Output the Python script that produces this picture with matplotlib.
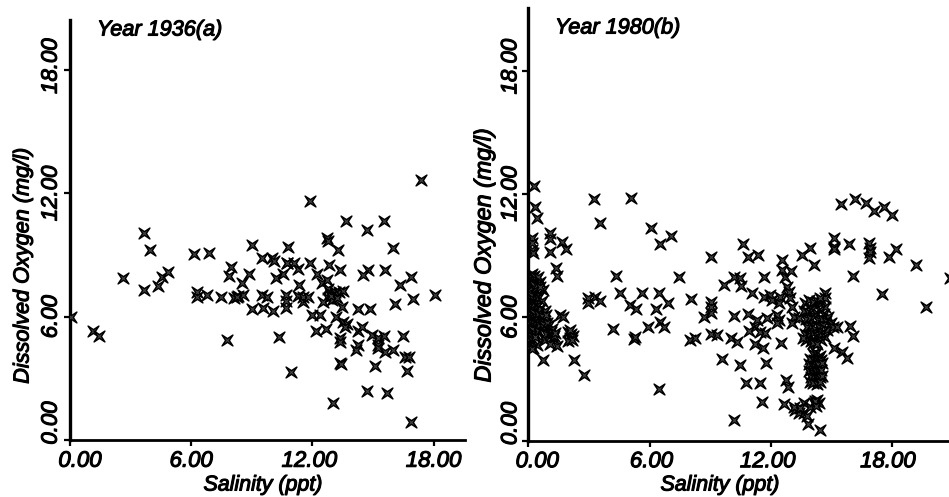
import matplotlib
matplotlib.use("Agg")
import matplotlib.pyplot as plt
import matplotlib.patheffects as pe
from matplotlib.path import Path
from matplotlib.transforms import ScaledTranslation

plt.rcParams['font.family'] = ['Liberation Sans', 'DejaVu Sans']

W, H = 949, 497

sal_1936 = [0.03,1.15,1.45,2.64,3.66,3.66,3.98,4.34,4.57,4.87,6.16,6.88,6.27,6.3,6.78,7.48,7.79,7.97,7.87,8.14,8.33,8.5,8.58,8.88,8.99,8.99,
    9.49,9.98,10.1,9.49,9.74,9.54,10.07,10.36,10.78,10.73,10.56,10.18,10.69,10.69,10.68,10.92,11.27,11.35,11.27,11.55,11.55,11.8,11.88,11.88,
    12.0,12.38,12.21,12.46,12.18,12.67,12.71,12.79,12.82,12.74,12.79,12.87,12.79,12.54,13.04,12.95,13.3,13.53,13.0,13.28,13.37,13.48,13.17,13.66,
    13.5,13.7,13.6,13.37,13.37,13.37,14.27,14.69,14.74,14.52,14.85,14.27,14.44,14.27,14.16,14.69,14.97,15.1,15.26,15.26,15.26,15.56,15.59,15.54,15.59,15.68,
    15.97,15.97,16.09,16.34,16.47,16.86,16.58,16.8,16.7,16.88,17.0,18.05,17.38,13.1,12.9,13.2,11.1,8.25,13.4,10.75]
do_1936 = [6.0,5.3,5.07,7.86,7.28,10.08,9.27,7.47,7.94,8.17,9.04,9.08,7.21,6.97,7.07,6.97,4.86,8.43,7.96,6.89,7.02,7.65,7.08,8.07,9.48,6.39,
    8.88,8.88,8.7,7.05,6.97,6.43,6.3,5.0,9.37,8.59,8.1,7.89,7.05,6.77,6.4,3.32,8.3,7.55,7.0,6.97,6.73,6.94,8.59,11.62,
    6.08,6.09,8.07,7.62,5.3,5.41,9.85,9.69,8.54,7.78,7.37,7.13,6.89,6.73,7.05,6.8,7.21,7.26,1.82,9.27,8.27,6.48,6.0,10.66,
    5.75,5.64,5.5,4.94,4.78,3.76,6.37,10.24,8.27,8.02,6.37,5.32,5.51,4.62,4.38,2.38,5.1,3.61,4.94,4.62,4.46,10.66,8.27,5.07,4.3,2.3,
    9.35,4.38,6.64,7.54,5.07,7.94,4.02,4.05,3.37,0.89,6.86,7.08,12.65,7.2,7.0,6.9,8.6,6.95,3.7,8.6]

sal_1980 = [0.28,0.33,0.43,3.25,5.08,3.55,6.07,6.52,7.05,15.48,16.18,16.7,17.1,17.6,18.0,
    0.2,0.2,0.2,0.25,1.07,1.07,1.07,1.69,1.87,1.36,1.44,0.74,2.26,2.76,1.4,
    0.05,0.1,0.15,0.2,0.3,0.4,0.5,0.6,0.75,0.05,0.12,0.22,0.35,0.45,0.6,0.05,0.15,0.25,0.38,0.5,0.7,0.08,0.18,0.3,0.42,0.58,0.85,
    0.05,0.14,0.24,0.36,0.5,0.66,0.9,0.06,0.16,0.28,0.4,0.55,0.72,0.05,0.12,0.2,0.32,0.48,0.08,0.2,0.35,0.1,0.25,0.42,0.2,
    0.75,0.9,1.0,1.1,1.2,0.85,1.05,1.25,0.95,1.15,1.3,
    1.95,2.05,2.1,2.2,1.95,2.15,2.05,1.57,1.74,
    2.97,2.94,3.3,3.55,4.21,4.33,4.55,5.04,5.32,5.24,5.3,5.65,5.95,6.45,6.33,6.53,6.74,6.94,6.45,7.44,8.05,8.02,8.23,
    9.06,9.04,9.04,9.04,8.68,9.06,9.34,9.59,9.67,10.17,10.5,10.53,10.17,10.05,10.33,10.17,10.61,10.88,11.36,10.5,10.78,11.49,11.57,
    11.07,10.86,11.32,11.24,10.91,11.49,11.74,11.24,11.62,11.77,11.65,11.65,11.98,12.07,11.82,12.31,12.4,12.31,12.53,12.56,12.56,12.73,13.02,12.81,12.89,12.48,12.4,12.98,13.06,
    12.78,12.86,12.64,13.14,13.06,13.39,13.55,13.97,14.13,
    13.22,13.39,13.14,13.64,13.64,13.8,13.85,14.13,14.3,14.38,13.47,13.97,14.43,14.2,14.25,
    14.1,14.25,14.45,13.95,14.15,14.35,14.5,13.9,14.05,14.2,14.35,14.52,13.92,14.08,14.22,14.38,14.5,14.0,14.15,14.3,14.45,14.55,13.95,14.1,14.28,14.42,
    13.7,13.9,14.1,14.3,14.5,14.7,13.65,13.85,14.05,14.25,14.45,14.65,14.85,13.75,13.95,14.15,14.35,14.55,14.75,15.0,13.8,14.0,14.2,14.4,14.6,14.8,15.1,13.7,13.9,14.1,14.3,14.5,14.7,13.75,14.0,14.25,14.5,14.1,14.3,13.6,14.68,14.7,14.45,
    15.29,15.12,15.54,15.79,15.95,16.07,15.12,15.12,15.15,15.87,16.07,16.86,16.94,16.9,16.86,17.49,17.85,18.18,19.21,19.67,20.86]
do_1980 = [12.38,11.36,10.83,11.75,11.8,10.58,10.34,9.56,9.95,11.51,11.75,11.55,11.17,11.36,10.97,
    9.84,9.6,9.27,9.1,10.11,9.79,9.19,9.68,9.3,8.38,8.0,3.91,3.91,3.19,4.62,
    8.0,7.85,7.9,8.1,8.0,7.8,7.95,7.7,7.3,7.5,7.4,7.6,7.35,7.55,7.45,7.0,7.1,6.9,7.05,6.95,6.8,6.6,6.5,6.65,6.55,6.4,6.3,
    6.2,6.1,6.25,6.0,6.15,6.05,6.1,5.8,5.7,5.85,5.75,5.6,5.65,5.4,5.3,5.45,5.2,5.35,5.0,4.9,5.05,4.6,4.5,4.65,4.45,
    5.5,5.2,5.6,5.3,5.0,4.9,4.7,5.1,5.7,5.45,5.25,
    5.3,5.0,5.2,5.1,4.85,4.9,5.4,6.1,6.03,
    6.92,6.68,7.0,6.79,5.41,8.0,7.2,6.6,6.4,4.94,5.05,7.16,5.51,7.16,6.39,5.79,5.51,6.68,2.5,7.97,6.87,4.89,4.98,
    8.95,6.76,6.48,6.19,6.0,5.17,5.11,3.97,7.57,7.97,7.89,7.52,6.08,5.01,4.78,1.0,9.55,8.95,9.03,3.68,2.79,2.79,1.86,
    7.16,6.16,5.87,5.54,5.33,5.3,5.25,4.68,4.49,3.76,7.94,7.0,7.08,6.84,5.95,6.11,5.87,5.7,4.76,8.78,8.3,7.97,8.25,7.49,7.24,7.0,6.68,6.92,6.52,
    2.92,2.59,1.78,6.03,5.7,5.95,9.03,9.35,8.54,
    1.49,1.33,1.65,1.82,1.33,1.17,0.81,1.82,1.98,1.82,1.57,1.65,0.52,1.9,1.7,
    4.2,4.25,4.1,3.95,3.9,3.95,3.9,3.7,3.65,3.6,3.7,3.75,3.4,3.3,3.4,3.35,3.45,3.1,3.15,3.05,3.1,3.15,2.85,2.8,2.75,2.85,
    6.7,6.85,6.75,6.8,6.7,6.5,6.3,6.25,6.4,6.2,6.35,6.15,6.0,5.9,5.95,6.05,5.85,5.9,5.8,5.7,5.5,5.55,5.45,5.5,5.6,5.4,5.5,5.2,5.15,5.25,5.1,5.2,5.05,4.9,4.85,4.8,4.9,4.75,4.7,5.0,7.2,6.92,6.95,
    5.54,4.49,4.33,4.0,5.58,5.09,9.84,9.43,9.3,9.55,8.02,9.59,9.35,9.15,8.87,7.12,8.95,9.3,8.54,6.52,7.89]

x_ticks = [0, 6, 12, 18]
y_ticks = [0, 6, 12, 18]
tick_labels = ['0.00', '6.00', '12.00', '18.00']

star = Path([(1, 1), (0.34, 0), (1, -1), (0, -0.34), (-1, -1), (-0.34, 0), (-1, 1), (0, 0.34), (1, 1)],
            [Path.MOVETO] + [Path.LINETO] * 7 + [Path.CLOSEPOLY])

fig = plt.figure(figsize=(W / 100, H / 100), dpi=100)
medium = [pe.withStroke(linewidth=0.8, foreground='black')]

def label(x, y, s, size, **kw):
    fig.text(x / W, 1 - y / H, s, fontsize=size, fontstyle='italic', va='center', path_effects=medium, **kw)

def make_panel(l, r, t, b, sal, do, title, title_px, ylab_px, xlab_cx, xoffs, yoffs, ylab_size, ypad):
    ax = fig.add_axes([l / W, 1 - b / H, (r - l) / W, (b - t) / H])
    ax.set_xlim(0, (r - l) / 20.2)
    ax.set_ylim(0, (b - t) / 20.55)
    ax.plot(sal, do, ls='none', marker=star, ms=7.8, mfc='#444444', mec='black', mew=1.05, zorder=3)
    for s in ('top', 'right'):
        ax.spines[s].set_visible(False)
    ax.spines['left'].set_linewidth(2.4)
    ax.spines['bottom'].set_linewidth(2.0)
    ax.set_xticks(x_ticks, tick_labels)
    ax.set_yticks(y_ticks, tick_labels)
    ax.tick_params(axis='x', length=4, width=1.6, pad=3, labelsize=16)
    ax.tick_params(axis='y', length=4, width=1.6, pad=ypad, labelsize=16)
    for i, lab in enumerate(ax.get_xticklabels()):
        lab.set_fontstyle('italic'); lab.set_path_effects(medium)
        lab.set_transform(lab.get_transform() + ScaledTranslation(xoffs[i] / 100, -1 / 100, fig.dpi_scale_trans))
    for i, lab in enumerate(ax.get_yticklabels()):
        lab.set_fontstyle('italic'); lab.set_path_effects(medium)
        lab.set_rotation(90); lab.set_va('center'); lab.set_ha('right')
        lab.set_transform(lab.get_transform() + ScaledTranslation(0, yoffs[i] / 100, fig.dpi_scale_trans))
    label(title_px[0], title_px[1], title, 15.6, ha='left')
    label(xlab_cx, 485, 'Salinity (ppt)', 15.4, ha='center')
    label(ylab_px[0], ylab_px[1], 'Dissolved Oxygen (mg/l)', ylab_size, ha='center', rotation=90)
    return ax

make_panel(70, 465, 20, 440, sal_1936, do_1936, 'Year 1936(a)', (97, 30), (23, 266), 263,
           [10, 0, -3, 0], [17, 0, 0, 4], 15.6, 2)
make_panel(528.3, 949, 8, 440.5, sal_1980, do_1980, 'Year 1980(b)', (555, 28), (484, 255), 720,
           [9, 2, -3, -4], [17, 0, 0, 4], 16.8, 1)

fig.savefig('out.png', dpi=100)
